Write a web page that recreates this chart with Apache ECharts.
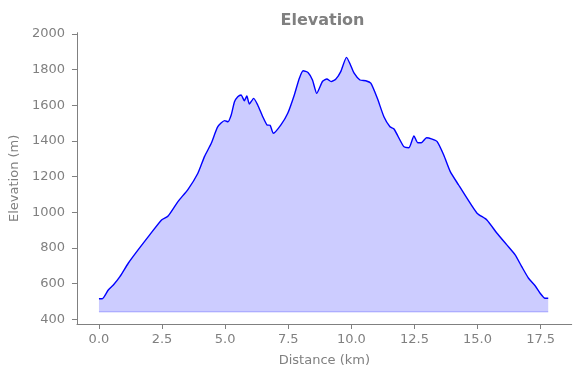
<!DOCTYPE html>
<html>
<head>
<meta charset="utf-8">
<script src="https://cdn.jsdelivr.net/npm/echarts@6/dist/echarts.min.js"></script>
<style>html,body{margin:0;padding:0;background:#fff;}#c{width:580px;height:378px;}</style>
</head>
<body>
<div id="c"></div>
<script>
const distanceKm = [0, 0.13, 0.37, 0.57, 0.83, 1.16, 1.55, 2.01, 2.48, 2.74, 3.13, 3.53, 3.92, 4.18, 4.45, 4.71, 4.98, 5.11, 5.24, 5.37, 5.50, 5.63, 5.76, 5.86, 5.96, 6.13, 6.29, 6.49, 6.66, 6.78, 6.91, 7.21, 7.48, 7.74, 7.94, 8.09, 8.29, 8.46, 8.63, 8.86, 9.03, 9.20, 9.38, 9.58, 9.81, 9.95, 10.11, 10.34, 10.57, 10.77, 11.03, 11.29, 11.53, 11.69, 12.08, 12.28, 12.48, 12.63, 12.77, 12.98, 13.20, 13.40, 13.66, 13.92, 14.25, 14.58, 14.98, 15.37, 15.77, 16.16, 16.49, 16.75, 17.02, 17.28, 17.48, 17.67, 17.80];
const elevationM = [515, 515, 564, 592, 639, 714, 789, 873, 957, 979, 1060, 1129, 1219, 1312, 1387, 1480, 1514, 1508, 1546, 1620, 1648, 1658, 1626, 1652, 1607, 1639, 1602, 1536, 1490, 1488, 1443, 1490, 1555, 1658, 1752, 1794, 1783, 1742, 1667, 1735, 1748, 1733, 1746, 1789, 1869, 1832, 1780, 1742, 1738, 1724, 1639, 1536, 1480, 1467, 1368, 1362, 1428, 1390, 1390, 1418, 1410, 1396, 1321, 1228, 1153, 1079, 995, 957, 882, 817, 761, 695, 630, 588, 546, 518, 518];
const fillBase = 442;
const xTicks = [0, 2.5, 5, 7.5, 10, 12.5, 15, 17.5];
const yTicks = [400, 600, 800, 1000, 1200, 1400, 1600, 1800, 2000];

const gray = '#808080';
const font = 'DejaVu Sans';
const pts = distanceKm.map((d, i) => [d, elevationM[i]]);
const basePts = [[distanceKm[0], fillBase], [distanceKm[distanceKm.length - 1], fillBase]];

const chart = echarts.init(document.getElementById('c'), null, {renderer: 'canvas'});
chart.setOption({
  animation: false,
  backgroundColor: '#fff',
  title: {
    text: 'Elevation',
    left: 317.5, top: 8, textAlign: 'center',
    textStyle: {fontFamily: font, fontSize: 16, fontWeight: 'bold', color: gray}
  },
  grid: {left: 75.3, right: 8.3, top: 32.7, bottom: 54, containLabel: false},
  xAxis: {
    type: 'value', min: -0.87, max: 18.73,
    name: 'Distance (km)', nameLocation: 'middle', nameGap: 30,
    nameTextStyle: {fontFamily: font, fontSize: 13, color: gray},
    axisLine: {show: true, onZero: false, lineStyle: {color: gray, width: 1}},
    axisTick: {show: true, inside: false, length: 5, lineStyle: {color: gray}, customValues: xTicks},
    axisLabel: {show: true, margin: 9, fontFamily: font, fontSize: 13, color: gray, customValues: xTicks,
      formatter: v => v.toFixed(1)},
    splitLine: {show: false}
  },
  yAxis: {
    type: 'value', min: 373.3, max: 2007.3,
    name: 'Elevation (m)', nameLocation: 'middle', nameGap: 51,
    nameTextStyle: {fontFamily: font, fontSize: 13, color: gray},
    axisLine: {show: true, onZero: false, lineStyle: {color: gray, width: 1}},
    axisTick: {show: true, inside: false, length: 5, lineStyle: {color: gray}, customValues: yTicks},
    axisLabel: {show: true, margin: 12, fontFamily: font, fontSize: 13, color: gray, customValues: yTicks,
      formatter: v => String(Math.round(v))},
    splitLine: {show: false}
  },
  series: [
    {
      type: 'line', data: basePts, symbol: 'none', silent: true,
      lineStyle: {color: 'rgba(0,0,255,0.2)', width: 1.5}, z: 1
    },
    {
      type: 'line', data: pts, symbol: 'none', smooth: 0.2,
      lineStyle: {color: '#0000ff', width: 1.4},
      areaStyle: {color: 'rgba(0,0,255,0.2)', origin: fillBase, opacity: 1},
      z: 2
    }
  ]
});
</script>
</body>
</html>
